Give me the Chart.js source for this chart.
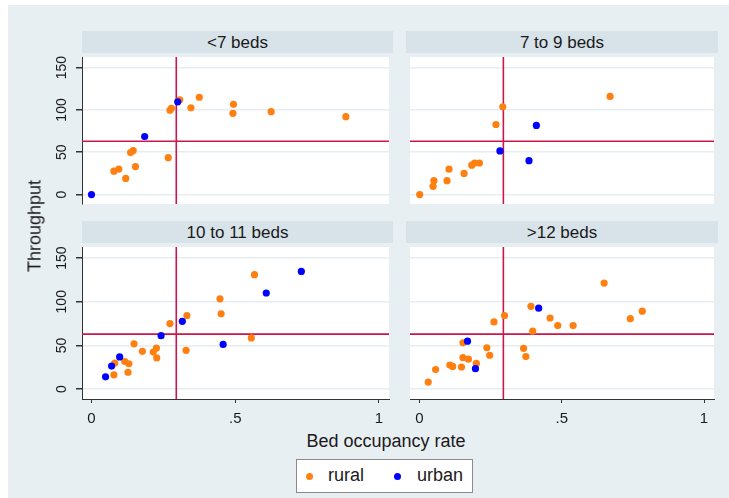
<!DOCTYPE html>
<html lang="en">
<head>
<meta charset="UTF-8">
<title>Throughput by bed occupancy rate</title>
<script src="https://cdn.jsdelivr.net/npm/chart.js"></script>
<style>
    body { margin: 0; background: #fff; font-family: "Liberation Sans", Arial, sans-serif; color: #1a1a1a; }
    #wrap { position: relative; width: 729px; height: 498px; overflow: hidden; }
    #bg { position: absolute; left: 8px; top: 5px; right: 0; bottom: 0; background: #e8eff2; }
    canvas { position: absolute; }
    .strip { position: absolute; height: 22px; line-height: 23px; background: #d7e2e9; text-align: center; font-size: 17px; }
    .ytitle { position: absolute; left: 35px; top: 226px; font-size: 18px; transform: translate(-50%, -50%) rotate(-90deg); white-space: nowrap; }
    .xtitle { position: absolute; left: 386px; top: 441px; font-size: 18px; transform: translate(-50%, -50%); white-space: nowrap; }
    #legend { position: absolute; left: 296px; top: 459px; width: 175px; height: 32px; background: #fff; border: 1px solid #8a8a8a; font-size: 18px; }
    #legend span.dot { position: absolute; top: 13px; width: 7px; height: 7px; border-radius: 50%; }
    #legend span.lab { position: absolute; top: 5px; }
</style>
</head>
<body>
<div id="wrap">
    <div id="bg"></div>
    <canvas id="c1" width="352" height="155" style="left:41px; top:53px;"></canvas>
    <canvas id="c2" width="312" height="155" style="left:406px; top:53px;"></canvas>
    <canvas id="c3" width="352" height="186" style="left:41px; top:243px;"></canvas>
    <canvas id="c4" width="312" height="186" style="left:406px; top:243px;"></canvas>
    <div class="strip" id="t1" style="left:82px; top:31px; width:311px;"></div>
    <div class="strip" id="t2" style="left:406px; top:31px; width:312px;"></div>
    <div class="strip" id="t3" style="left:82px; top:221px; width:311px;"></div>
    <div class="strip" id="t4" style="left:406px; top:221px; width:312px;"></div>
    <div class="ytitle">Throughput</div>
    <div class="xtitle">Bed occupancy rate</div>
    <div id="legend">
        <span class="dot" style="left:9px; background:#ff8010;"></span><span class="lab" style="left:31px;">rural</span>
        <span class="dot" style="left:97px; background:#0000ff;"></span><span class="lab" style="left:120px;">urban</span>
    </div>
</div>

<script>
    // panel titles and axis ticks
    const panelTitles = ['<7 beds', '7 to 9 beds', '10 to 11 beds', '>12 beds'];
    const xTickValues = [0, 0.5, 1];
    const xTickLabels = ['0', '.5', '1'];
    const yTickValues = [0, 50, 100, 150];
    const yTickLabels = ['0', '50', '100', '150'];
    const refX = 0.295;   // vertical reference line
    const refY = 63;      // horizontal reference line

    // <7 beds
    const p1RuralX = [0.078, 0.095, 0.119, 0.136, 0.145, 0.153, 0.267, 0.273, 0.278, 0.307, 0.346, 0.375, 0.494, 0.492, 0.625, 0.885];
    const p1RuralY = [27.6, 30, 19, 49.6, 52, 33, 43.6, 99.6, 102, 112, 102.5, 115, 106.6, 96, 98, 92];
    const p1UrbanX = [0, 0.185, 0.300];
    const p1UrbanY = [0, 68.6, 109.6];

    // 7 to 9 beds
    const p2RuralX = [0.001, 0.048, 0.051, 0.097, 0.104, 0.157, 0.184, 0.194, 0.211, 0.269, 0.293, 0.670];
    const p2RuralY = [0, 9.7, 16.4, 16.4, 30, 25, 34.7, 37.3, 37.3, 82.8, 103.7, 116];
    const p2UrbanX = [0.283, 0.411, 0.385];
    const p2UrbanY = [51.5, 81.7, 40];

    // 10 to 11 beds
    const p3RuralX = [0.078, 0.081, 0.116, 0.130, 0.127, 0.148, 0.177, 0.215, 0.226, 0.227, 0.273, 0.332, 0.329, 0.447, 0.451, 0.556, 0.567];
    const p3RuralY = [16.4, 29.9, 31.7, 29.1, 19.4, 51.9, 43.3, 42.5, 47, 35.8, 75, 84.3, 44.4, 103.3, 86.2, 58.6, 131];
    const p3UrbanX = [0.049, 0.070, 0.098, 0.242, 0.316, 0.458, 0.608, 0.730];
    const p3UrbanY = [14.2, 26.5, 36.9, 61.2, 77.6, 51.2, 110, 134.7];

    // >12 beds
    const p4RuralX = [0.031, 0.057, 0.107, 0.117, 0.148, 0.153, 0.172, 0.153, 0.200, 0.237, 0.247, 0.262, 0.299, 0.366, 0.374, 0.392, 0.398, 0.459, 0.486, 0.540, 0.649, 0.741, 0.783];
    const p4RuralY = [8.2, 22.4, 27.6, 26.1, 25.4, 36.2, 34.3, 53, 29.5, 47.4, 38.8, 76.9, 84.3, 46.7, 37.3, 94.8, 66.4, 81.4, 72.8, 72.8, 121.3, 80.6, 89.2];
    const p4UrbanX = [0.169, 0.197, 0.419];
    const p4UrbanY = [54.9, 23.5, 92.6];

    const ruralColor = '#ff8010';
    const urbanColor = '#0000ff';
    const refColor = '#c8174a';
    const axisColor = '#333333';

    function toPoints(xs, ys) {
        return xs.map((x, i) => ({ x: x, y: ys[i] }));
    }

    // white plot region + reference lines under the markers
    const plotDecor = {
        id: 'plotDecor',
        beforeDraw(chart) {
            const a = chart.chartArea;
            const ctx = chart.ctx;
            ctx.save();
            ctx.fillStyle = '#ffffff';
            ctx.fillRect(a.left, a.top, a.right - a.left, a.bottom - a.top);
            ctx.restore();
        },
        beforeDatasetsDraw(chart) {
            const a = chart.chartArea;
            const ctx = chart.ctx;
            const px = chart.scales.x.getPixelForValue(refX);
            const py = chart.scales.y.getPixelForValue(refY);
            ctx.save();
            ctx.strokeStyle = refColor;
            ctx.lineWidth = 1.6;
            ctx.beginPath();
            ctx.moveTo(px, a.top);
            ctx.lineTo(px, a.bottom);
            ctx.moveTo(a.left, py);
            ctx.lineTo(a.right, py);
            ctx.stroke();
            ctx.restore();
        },
        // y tick labels turned 90 degrees, like Stata draws them
        afterDraw(chart, args, opts) {
            if (!opts.showY) return;
            const ctx = chart.ctx;
            const ys = chart.scales.y;
            ctx.save();
            ctx.fillStyle = '#1a1a1a';
            ctx.font = '14px "Liberation Sans", Arial, sans-serif';
            ctx.textAlign = 'center';
            ctx.textBaseline = 'middle';
            yTickValues.forEach((v, i) => {
                const y = ys.getPixelForValue(v);
                ctx.save();
                ctx.translate(chart.chartArea.left - 20, y);
                ctx.rotate(-Math.PI / 2);
                ctx.fillText(yTickLabels[i], 0, 0);
                ctx.restore();
            });
            ctx.restore();
        }
    };

    function makePanel(id, title, rx, ry, ux, uy, showY, showX) {
        document.getElementById('t' + id.slice(1)).textContent = title;
        const ctx = document.getElementById(id).getContext('2d');
        return new Chart(ctx, {
            type: 'scatter',
            data: {
                datasets: [
                    { label: 'rural', data: toPoints(rx, ry), backgroundColor: ruralColor, borderWidth: 0, pointRadius: 3.6, order: 2 },
                    { label: 'urban', data: toPoints(ux, uy), backgroundColor: urbanColor, borderWidth: 0, pointRadius: 3.6, order: 1 }
                ]
            },
            options: {
                responsive: false,
                animation: false,
                devicePixelRatio: 1,
                events: [],
                layout: { padding: 0 },
                plugins: {
                    legend: { display: false },
                    tooltip: { enabled: false },
                    plotDecor: { showY: showY }
                },
                scales: {
                    x: {
                        type: 'linear',
                        min: -0.033,
                        max: 1.035,
                        display: showX,
                        afterBuildTicks: s => { s.ticks = xTickValues.map(v => ({ value: v })); },
                        afterFit: s => { s.height = showX ? 30 : 0; },
                        ticks: {
                            callback: v => xTickLabels[xTickValues.indexOf(v)],
                            font: { size: 15, family: '"Liberation Sans", Arial, sans-serif' },
                            color: '#1a1a1a',
                            padding: 7,
                            maxRotation: 0,
                            autoSkip: false
                        },
                        grid: { display: true, drawOnChartArea: false, drawTicks: true, tickLength: 4, tickColor: axisColor },
                        border: { display: true, color: axisColor, width: 1 }
                    },
                    y: {
                        type: 'linear',
                        min: -11.2,
                        max: 162.6,
                        afterBuildTicks: s => { s.ticks = yTickValues.map(v => ({ value: v })); },
                        afterFit: s => { s.width = showY ? 41 : 0; },
                        ticks: { display: false },
                        grid: { color: '#e6eef1', lineWidth: 1.5, drawTicks: showY, tickLength: 6, tickColor: axisColor },
                        border: { display: showY, color: axisColor, width: 1 }
                    }
                }
            },
            plugins: [plotDecor]
        });
    }

    makePanel('c1', panelTitles[0], p1RuralX, p1RuralY, p1UrbanX, p1UrbanY, true, false);
    makePanel('c2', panelTitles[1], p2RuralX, p2RuralY, p2UrbanX, p2UrbanY, false, false);
    makePanel('c3', panelTitles[2], p3RuralX, p3RuralY, p3UrbanX, p3UrbanY, true, true);
    makePanel('c4', panelTitles[3], p4RuralX, p4RuralY, p4UrbanX, p4UrbanY, false, true);
</script>
</body>
</html>
